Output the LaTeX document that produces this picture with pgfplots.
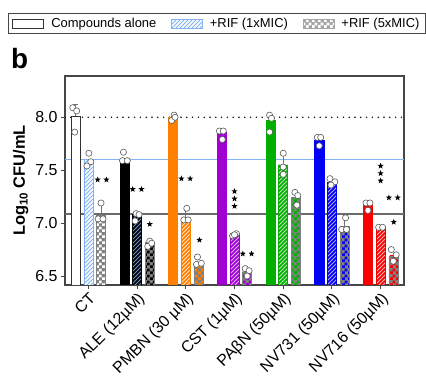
\documentclass[border=0pt]{standalone}
\usepackage{pgfplots}
\pgfplotsset{compat=1.18}
\usetikzlibrary{patterns}
\usepackage{fontspec}
\setmainfont{Liberation Sans}
\definecolor{cOrange}{RGB}{255,128,0}
\definecolor{cPurple}{RGB}{160,0,210}
\definecolor{cGreen}{RGB}{0,175,0}
\definecolor{cBlue}{RGB}{0,0,245}
\definecolor{cRed}{RGB}{250,0,0}
\definecolor{lblue}{RGB}{130,180,245}
\definecolor{chkgray}{RGB}{128,128,128}
\definecolor{axgray}{RGB}{70,70,70}
\pgfdeclarepatternformonly{mychecker}{\pgfpointorigin}{\pgfqpoint{6bp}{6bp}}{\pgfqpoint{6bp}{6bp}}{%
  \pgfpathrectangle{\pgfpointorigin}{\pgfqpoint{3.05bp}{3.05bp}}%
  \pgfpathrectangle{\pgfqpoint{3bp}{3bp}}{\pgfqpoint{3.05bp}{3.05bp}}%
  \pgfusepath{fill}}
\pgfdeclarepatternformonly{mylines}{\pgfqpoint{-1bp}{-1bp}}{\pgfqpoint{5bp}{5bp}}{\pgfqpoint{4bp}{4bp}}{%
  \pgfsetlinewidth{0.8bp}%
  \pgfpathmoveto{\pgfpointorigin}%
  \pgfpathlineto{\pgfqpoint{4.1bp}{4.1bp}}%
  \pgfusepath{stroke}}
\pgfdeclareplotmark{fstar}{%
  \pgfpathmoveto{\pgfpointpolar{90}{\pgfplotmarksize}}%
  \pgfpathlineto{\pgfpointpolar{126}{0.42\pgfplotmarksize}}%
  \pgfpathlineto{\pgfpointpolar{162}{\pgfplotmarksize}}%
  \pgfpathlineto{\pgfpointpolar{198}{0.42\pgfplotmarksize}}%
  \pgfpathlineto{\pgfpointpolar{234}{\pgfplotmarksize}}%
  \pgfpathlineto{\pgfpointpolar{270}{0.42\pgfplotmarksize}}%
  \pgfpathlineto{\pgfpointpolar{306}{\pgfplotmarksize}}%
  \pgfpathlineto{\pgfpointpolar{342}{0.42\pgfplotmarksize}}%
  \pgfpathlineto{\pgfpointpolar{18}{\pgfplotmarksize}}%
  \pgfpathlineto{\pgfpointpolar{54}{0.42\pgfplotmarksize}}%
  \pgfpathclose
  \pgfusepathqfill}
\tikzset{
  hatchfill/.style={postaction={pattern=mylines, pattern color=#1}},
  checkfill/.style={postaction={pattern=mychecker, pattern color=#1}},
}
\pgfplotsset{
  mybar/.style={ybar, bar width=0.185, bar shift=0pt, forget plot, line width=0.5bp},
  dots/.style={only marks, mark=*, mark size=3.1bp, mark options={fill=white, draw=black!65, line width=0.6bp}, forget plot},
}
\begin{document}
\begin{tikzpicture}
\path[use as bounding box] (0,0) rectangle (426bp,376bp);
\node[anchor=base west, font=\bfseries\fontsize{28}{30}\selectfont, inner sep=0pt] at (11bp,307bp) {b};
\begin{axis}[
  at={(65bp,91bp)}, anchor=south west,
  scale only axis, width=339bp, height=209bp,
  xmin=-0.48, xmax=6.48, ymin=6.415, ymax=8.39,
  axis line style={axgray, line width=1.2bp},
  major tick style={axgray, line width=1bp},
  tick align=outside, major tick length=4bp,
  xtick pos=bottom, ytick pos=left,
  xtick={0,1,2,3,4,5,6},
  xticklabels={CT, ALE (12µM), PMBN (30 µM), CST (1µM), PAβN (50µM), NV731 (50µM), NV716 (50µM)},
  xticklabel style={rotate=45, anchor=north east, inner sep=1.5bp, font=\fontsize{16}{16}\selectfont},
  ytick={6.5,7.0,7.5,8.0},
  yticklabel style={font=\fontsize{16}{16}\selectfont, /pgf/number format/fixed, /pgf/number format/fixed zerofill, /pgf/number format/precision=1, /pgf/number format/assume math mode=true},
  ylabel={\bfseries Log\textsubscript{10} CFU/mL},
  ylabel style={font=\fontsize{16.5}{18}\selectfont},
  legend columns=3,
  legend style={at={(-0.168,1.201)}, anchor=south west, draw=axgray, line width=0.9bp,
    font=\fontsize{13}{14}\selectfont, inner xsep=4bp, inner ysep=2.5bp,
    /tikz/every even column/.append style={column sep=13bp},
    /tikz/every odd column/.append style={column sep=5bp}},
  legend image code/.code={\draw[#1] (0bp,-4.5bp) rectangle (31bp,4.5bp);},
]
% reference lines
\addplot[forget plot, black, line width=1.6bp, line cap=round, dash pattern=on 0bp off 5.8bp] coordinates {(-0.48,8.0) (6.48,8.0)};
\addplot[forget plot, lblue, line width=1.5bp] coordinates {(-0.48,7.60) (6.48,7.60)};
\addplot[forget plot, black!58, line width=1.4bp] coordinates {(-0.48,7.085) (6.48,7.085)};

% legend
\addlegendimage{fill=white, draw=black!80, line width=0.8bp}
\addlegendentry{Compounds alone}
\addlegendimage{fill=white, draw=lblue, line width=0.5bp, hatchfill=lblue}
\addlegendentry{+RIF (1xMIC)}
\addlegendimage{fill=chkgray!70, draw=chkgray!70, line width=0.5bp, checkfill=white}
\addlegendentry{+RIF (5xMIC)}

% error bars
\addplot[forget plot, black!55, line width=0.6bp] coordinates {(-0.26,8.0) (-0.26,8.12)};
\addplot[forget plot, black!55, line width=0.6bp] coordinates {(-0.31,8.12) (-0.21,8.12)};
\addplot[forget plot, black!55, line width=0.6bp] coordinates {(0.26,7.06) (0.26,7.18)};
\addplot[forget plot, black!55, line width=0.6bp] coordinates {(2.0,7.03) (2.0,7.13)};
\addplot[forget plot, lblue!70!black, line width=0.6bp] coordinates {(4.0,7.54) (4.0,7.66)};
\addplot[forget plot, black!55, line width=0.6bp] coordinates {(5.26,6.96) (5.26,7.05)};

% CT
\addplot[mybar, fill=white, draw=black!80, line width=0.8bp] coordinates {(-0.26,8.01)};
\addplot[mybar, fill=white, draw=lblue, hatchfill=lblue] coordinates {(0,7.60)};
\addplot[mybar, fill=chkgray, draw=chkgray, checkfill=white] coordinates {(0.26,7.07)};
% ALE
\addplot[mybar, fill=black, draw=black] coordinates {(0.74,7.60)};
\addplot[mybar, fill=black, draw=black, hatchfill=lblue!80!black] coordinates {(1.0,7.08)};
\addplot[mybar, fill=chkgray, draw=chkgray, checkfill=black] coordinates {(1.26,6.82)};
% PMBN
\addplot[mybar, fill=cOrange, draw=cOrange] coordinates {(1.74,8.00)};
\addplot[mybar, fill=cOrange, draw=cOrange, hatchfill=white!75!cOrange] coordinates {(2.0,7.04)};
\addplot[mybar, fill=chkgray, draw=chkgray, checkfill=cOrange] coordinates {(2.26,6.63)};
% CST
\addplot[mybar, fill=cPurple, draw=cPurple] coordinates {(2.74,7.86)};
\addplot[mybar, fill=cPurple, draw=cPurple, hatchfill=white!70!cPurple] coordinates {(3.0,6.89)};
\addplot[mybar, fill=chkgray, draw=chkgray, checkfill=cPurple] coordinates {(3.26,6.54)};
% PAbN
\addplot[mybar, fill=cGreen, draw=cGreen] coordinates {(3.74,7.97)};
\addplot[mybar, fill=cGreen, draw=cGreen, hatchfill=white!70!cGreen] coordinates {(4.0,7.55)};
\addplot[mybar, fill=chkgray, draw=chkgray, checkfill=cGreen] coordinates {(4.26,7.24)};
% NV731
\addplot[mybar, fill=cBlue, draw=cBlue] coordinates {(4.74,7.78)};
\addplot[mybar, fill=cBlue, draw=cBlue, hatchfill=white!65!cBlue] coordinates {(5.0,7.39)};
\addplot[mybar, fill=chkgray, draw=chkgray, checkfill=cBlue] coordinates {(5.26,6.97)};
% NV716
\addplot[mybar, fill=cRed, draw=cRed] coordinates {(5.74,7.17)};
\addplot[mybar, fill=cRed, draw=cRed, hatchfill=white!70!cRed] coordinates {(6.0,6.96)};
\addplot[mybar, fill=chkgray, draw=chkgray, checkfill=cRed] coordinates {(6.26,6.69)};

% individual points
\addplot[dots] coordinates {
(-0.32,8.09) (-0.24,8.06) (-0.28,7.86)
(-0.03,7.54) (0.05,7.58) (0.01,7.66)
(0.20,7.04) (0.30,7.04) (0.26,7.19)
(0.72,7.67) (0.70,7.59) (0.80,7.59)
(0.98,7.09) (1.04,7.08) (0.96,7.02)
(1.22,6.78) (1.26,6.83) (1.30,6.81)
(1.76,8.02) (1.71,7.97) (1.78,8.00)
(2.02,7.14) (1.96,7.03) (2.05,7.03)
(2.24,6.68) (2.22,6.61) (2.32,6.62)
(2.69,7.87) (2.77,7.87) (2.75,7.79)
(2.96,6.88) (3.04,6.90) (3.00,6.89)
(3.22,6.57) (3.30,6.55) (3.26,6.50)
(3.72,8.02) (3.76,7.99) (3.72,7.86)
(4.00,7.66) (4.00,7.53) (4.00,7.46)
(4.24,7.29) (4.30,7.26) (4.28,7.17)
(4.70,7.81) (4.77,7.81) (4.74,7.73)
(4.96,7.42) (5.06,7.39) (4.98,7.36)
(5.28,7.05) (5.20,6.94) (5.30,6.94)
(5.70,7.19) (5.78,7.19) (5.74,7.12)
(5.96,6.96) (6.04,6.96)
(6.22,6.75) (6.32,6.70) (6.26,6.64)
};

% significance stars
\addplot[forget plot, only marks, mark=fstar, mark size=3.2bp, black] coordinates {
(0.19,7.41) (0.37,7.41)
(0.91,7.32) (1.09,7.32)
(1.26,6.99)
(1.91,7.42) (2.09,7.42)
(2.28,6.84)
(3.0,7.30) (3.0,7.23) (3.0,7.16)
(3.17,6.71) (3.35,6.71)
(6.0,7.54) (6.0,7.47) (6.0,7.40)
(6.17,7.24) (6.35,7.24)
(6.27,7.01)
};
\end{axis}
\end{tikzpicture}
\end{document}
